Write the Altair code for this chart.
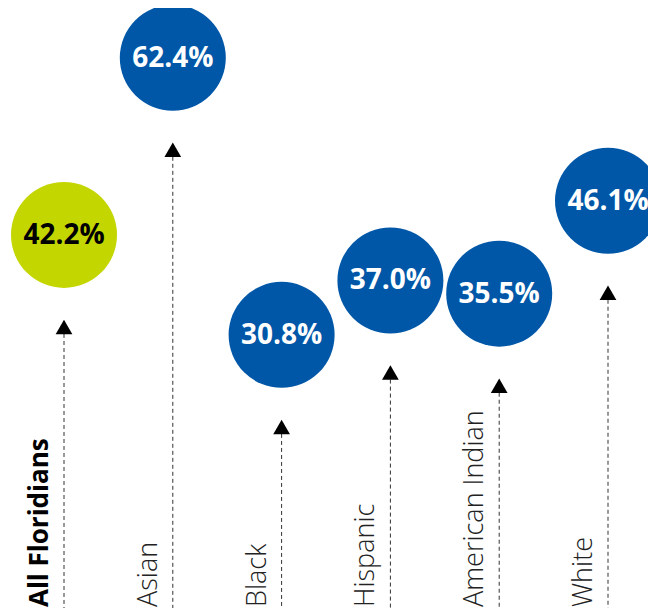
import altair as alt
import pandas as pd

categories = ["All Floridians", "Asian", "Black", "Hispanic", "American Indian", "White"]
values = [42.2, 62.4, 30.8, 37.0, 35.5, 46.1]
groups = ["all", "group", "group", "group", "group", "group"]
labels = ["42.2%", "62.4%", "30.8%", "37.0%", "35.5%", "46.1%"]

df = pd.DataFrame({"cat": categories, "value": values, "grp": groups, "label": labels})

FONT = "Open Sans"

x_enc = alt.X("cat:N", sort=categories, axis=None,
              scale=alt.Scale(type="point", range=[56, 600], padding=0))
y_scale = alt.Scale(domain=[0, 68.07], range=[597, 0])

base = alt.Chart(df).transform_calculate(
    tip="datum.value - 10.5",
    bottom="-1",
)

rules = base.mark_rule(color="#333333", strokeWidth=1, strokeDash=[4, 3]).encode(
    x=x_enc,
    y=alt.Y("tip:Q", scale=y_scale, axis=None),
    y2="bottom:Q",
)

heads = base.mark_point(shape="triangle-up", size=280, filled=True, color="#000000", opacity=1).encode(
    x=x_enc,
    y=alt.Y("tip:Q", scale=y_scale, axis=None),
)

circles = base.mark_circle(size=11236, opacity=1).encode(
    x=x_enc,
    y=alt.Y("value:Q", scale=y_scale, axis=None),
    color=alt.Color("grp:N", scale=alt.Scale(domain=["all", "group"], range=["#C4D600", "#0057A8"]), legend=None),
)

pct = base.mark_text(font=FONT, fontWeight="bold", fontSize=28, align="center", baseline="middle", dy=1).encode(
    x=x_enc,
    y=alt.Y("value:Q", scale=y_scale, axis=None),
    text="label:N",
    color=alt.Color("grp:N", scale=alt.Scale(domain=["all", "group"], range=["#000000", "#FFFFFF"]), legend=None),
)

cat_all = base.transform_filter(alt.datum.grp == "all").mark_text(
    font=FONT, fontWeight="bold", fontSize=26, angle=270, align="left", baseline="alphabetic", dy=-16, color="#000000"
).encode(x=x_enc, y=alt.value(599), text="cat:N")

cat_grp = base.transform_filter(alt.datum.grp == "group").mark_text(
    font=FONT, fontWeight=300, fontSize=27, angle=270, align="left", baseline="alphabetic", dy=-16, color="#222222"
).encode(x=x_enc, y=alt.value(599), text="cat:N")

chart = alt.layer(rules, heads, circles, pct, cat_all, cat_grp).resolve_scale(color="independent").properties(
    width=640, height=600, padding=0, autosize=alt.AutoSizeParams(type="none")
).configure_view(stroke=None)

chart.save("out.html", embed_options={"renderer": "svg", "actions": False})
